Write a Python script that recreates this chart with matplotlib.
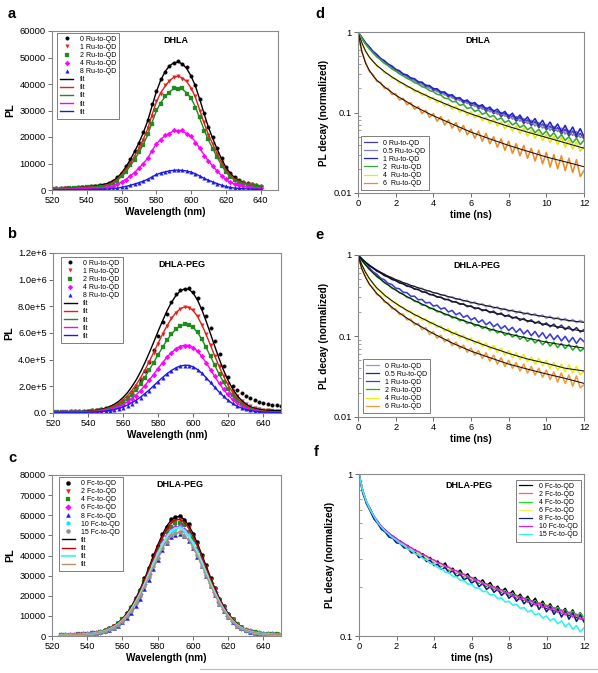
import numpy as np
import matplotlib
matplotlib.use('Agg')
import matplotlib.pyplot as plt
from matplotlib.ticker import FixedLocator, FixedFormatter, NullFormatter, LogLocator
from matplotlib.lines import Line2D

plt.rcParams['font.family'] = ['Liberation Sans', 'DejaVu Sans']

# ---------------- spectra data (PL in thousands of counts) ----------------
wl_a = np.arange(520, 640.01, 2.5)
a_labels = ['0 Ru-to-QD', '1 Ru-to-QD', '2 Ru-to-QD', '4 Ru-to-QD', '8 Ru-to-QD']
a_0 = [0.50, 0.58, 0.62, 0.66, 0.78, 0.84, 0.98, 1.08, 1.28, 1.42, 1.60, 1.80, 2.05, 2.55, 3.40, 4.80, 6.60, 8.90, 11.6, 14.8, 17.9, 21.9, 26.4, 32.4, 37.2, 41.9, 44.6, 46.9, 47.8, 48.6, 47.5, 46.6, 43.2, 39.8, 34.4, 28.9, 23.9, 19.9, 15.7, 12.1, 8.8, 6.5, 4.9, 3.9, 3.2, 2.7, 2.2, 1.8, 1.5]
a_1 = [0.45, 0.47, 0.55, 0.57, 0.68, 0.74, 0.86, 0.95, 1.13, 1.22, 1.40, 1.52, 1.76, 2.10, 2.98, 4.00, 5.85, 7.60, 10.3, 12.6, 16.0, 18.9, 23.3, 28.0, 33.5, 36.4, 39.5, 41.0, 42.8, 43.2, 42.0, 41.2, 38.2, 35.3, 29.8, 25.5, 20.6, 17.5, 13.5, 10.6, 7.4, 5.7, 4.1, 3.5, 2.6, 2.3, 1.8, 1.5, 1.2]
a_2 = [0.41, 0.43, 0.49, 0.51, 0.62, 0.67, 0.78, 0.85, 1.01, 1.09, 1.26, 1.36, 1.58, 1.88, 2.70, 3.58, 5.30, 6.80, 9.25, 11.3, 14.4, 16.9, 21.0, 25.0, 30.2, 32.6, 35.5, 36.6, 38.5, 38.1, 38.4, 36.2, 34.9, 31.0, 27.4, 22.3, 19.1, 15.3, 12.5, 9.2, 6.9, 4.9, 3.9, 2.9, 2.5, 2.0, 1.7, 1.4, 1.1]
a_4 = [0.24, 0.25, 0.29, 0.30, 0.36, 0.39, 0.45, 0.50, 0.60, 0.64, 0.74, 0.80, 0.93, 1.10, 1.56, 2.10, 3.08, 3.95, 5.40, 6.60, 8.40, 9.85, 12.2, 14.6, 17.5, 19.0, 20.7, 21.3, 22.5, 22.2, 22.6, 21.0, 20.3, 17.9, 15.9, 13.0, 11.1, 8.9, 7.3, 5.4, 4.0, 2.9, 2.3, 1.75, 1.45, 1.18, 0.98, 0.78, 0.66]
a_8 = [0.08, 0.10, 0.09, 0.11, 0.12, 0.14, 0.15, 0.18, 0.19, 0.23, 0.24, 0.28, 0.31, 0.38, 0.52, 0.70, 1.04, 1.32, 1.82, 2.20, 2.82, 3.30, 4.10, 4.90, 5.90, 6.35, 6.95, 7.15, 7.55, 7.45, 7.50, 7.05, 6.85, 6.00, 5.35, 4.35, 3.72, 3.00, 2.45, 1.80, 1.35, 0.96, 0.76, 0.58, 0.49, 0.39, 0.34, 0.26, 0.23]
a_fit0 = [0.40, 0.45, 0.50, 0.58, 0.66, 0.76, 0.88, 1.02, 1.18, 1.36, 1.56, 1.80, 2.10, 2.60, 3.40, 4.60, 6.40, 8.70, 11.4, 14.5, 17.8, 21.6, 26.0, 31.6, 37.0, 41.4, 44.6, 46.8, 48.0, 48.3, 47.6, 45.8, 43.0, 39.2, 34.2, 28.8, 23.6, 19.4, 15.4, 11.8, 8.6, 6.3, 4.7, 3.6, 2.8, 2.2, 1.8, 1.5, 1.2]
a_fit1 = [0.44, 0.49, 0.53, 0.58, 0.66, 0.75, 0.84, 0.97, 1.11, 1.24, 1.37, 1.55, 1.73, 2.12, 2.92, 4.07, 5.75, 7.70, 10.1, 12.8, 15.8, 19.1, 23.0, 28.3, 33.2, 36.7, 39.1, 41.2, 42.5, 42.9, 42.3, 40.9, 38.5, 35.0, 30.1, 25.2, 20.9, 17.3, 13.7, 10.4, 7.5, 5.6, 4.2, 3.4, 2.7, 2.3, 1.9, 1.5, 1.2]
a_fit2 = [0.40, 0.44, 0.48, 0.52, 0.60, 0.68, 0.76, 0.87, 0.99, 1.11, 1.23, 1.39, 1.55, 1.91, 2.62, 3.66, 5.17, 6.92, 9.06, 11.5, 14.2, 17.2, 20.7, 25.4, 29.8, 33.0, 35.1, 37.0, 38.2, 38.6, 38.0, 36.7, 34.6, 31.4, 27.0, 22.7, 18.8, 15.6, 12.3, 9.4, 6.8, 5.0, 3.8, 3.0, 2.5, 2.1, 1.7, 1.4, 1.1]
a_fit4 = [0.23, 0.25, 0.28, 0.30, 0.35, 0.39, 0.44, 0.51, 0.58, 0.65, 0.72, 0.81, 0.90, 1.11, 1.52, 2.13, 3.00, 4.02, 5.27, 6.70, 8.22, 9.98, 12.0, 14.8, 17.3, 19.2, 20.4, 21.5, 22.2, 22.4, 22.1, 21.3, 20.1, 18.2, 15.7, 13.2, 10.9, 9.06, 7.16, 5.45, 3.93, 2.91, 2.22, 1.76, 1.43, 1.20, 0.97, 0.79, 0.65]
a_fit8 = [0.08, 0.09, 0.09, 0.10, 0.12, 0.13, 0.15, 0.17, 0.19, 0.22, 0.24, 0.27, 0.30, 0.37, 0.51, 0.71, 1.01, 1.35, 1.77, 2.25, 2.76, 3.35, 4.03, 4.96, 5.81, 6.43, 6.85, 7.22, 7.44, 7.52, 7.41, 7.16, 6.74, 6.12, 5.27, 4.42, 3.66, 3.04, 2.40, 1.83, 1.32, 0.98, 0.74, 0.59, 0.48, 0.40, 0.33, 0.26, 0.22]

wl_b = np.arange(520, 650.01, 2.5)
b_0 = [8, 10, 9, 11, 12, 12, 14, 15, 17, 20, 24, 28, 35, 44, 55, 68, 85, 108, 140, 190, 250, 318, 385, 470, 580, 680, 745, 830, 895, 920, 932, 935, 905, 865, 790, 725, 640, 540, 440, 350, 270, 200, 170, 150, 130, 115, 100, 85, 72, 66, 62, 58, 54]
b_1 = [8, 7, 8, 8, 9, 9, 10, 11, 13, 15, 19, 24, 30, 40, 52, 70, 92, 122, 160, 205, 258, 318, 385, 450, 520, 590, 655, 712, 752, 780, 792, 790, 770, 725, 662, 590, 510, 428, 350, 278, 215, 165, 125, 92, 68, 50, 38, 30, 24, 20, 17, 15, 13]
b_2 = [7, 6, 7, 7, 8, 8, 9, 9, 11, 13, 15, 19, 24, 32, 43, 58, 78, 103, 135, 172, 215, 265, 320, 378, 436, 492, 545, 592, 630, 655, 664, 662, 645, 608, 556, 492, 425, 358, 292, 232, 180, 137, 102, 75, 55, 40, 30, 23, 18, 15, 13, 11, 10]
b_4 = [6, 5, 6, 6, 6, 7, 7, 8, 9, 10, 12, 15, 19, 25, 34, 45, 60, 79, 103, 131, 165, 202, 244, 288, 333, 376, 417, 452, 480, 498, 506, 504, 490, 462, 424, 377, 326, 274, 224, 179, 139, 106, 80, 59, 44, 33, 25, 19, 15, 12, 10, 9, 8]
b_8 = [5, 4, 5, 5, 5, 5, 5, 6, 6, 7, 8, 10, 13, 17, 23, 31, 41, 54, 70, 90, 113, 139, 168, 199, 231, 262, 291, 316, 336, 350, 356, 355, 345, 325, 298, 265, 229, 192, 157, 125, 97, 74, 55, 41, 30, 22, 16, 12, 10, 8, 7, 6, 6]
b_fit0 = [8, 8, 8, 8, 9, 9, 10, 11, 13, 16, 21, 27, 36, 49, 66, 88, 117, 153, 198, 250, 311, 380, 455, 534, 615, 692, 766, 829, 879, 915, 931, 928, 898, 844, 770, 682, 586, 490, 397, 313, 240, 180, 131, 94, 66, 46, 34, 27, 22, 20, 19, 18, 18]
b_fit1 = [7, 7, 7, 7, 7, 8, 9, 10, 11, 14, 18, 23, 31, 42, 56, 76, 100, 131, 169, 214, 266, 325, 389, 457, 525, 592, 654, 709, 751, 781, 795, 793, 767, 721, 658, 582, 501, 419, 340, 268, 205, 154, 112, 80, 56, 39, 28, 20, 15, 12, 10, 8, 8]
b_fit2 = [6, 6, 6, 6, 6, 7, 7, 8, 10, 12, 15, 20, 26, 35, 47, 63, 84, 110, 141, 179, 222, 271, 325, 382, 439, 494, 547, 592, 628, 653, 665, 663, 641, 603, 550, 486, 419, 350, 284, 224, 172, 129, 94, 67, 47, 33, 23, 17, 12, 10, 8, 7, 7]
b_fit4 = [5, 5, 5, 5, 5, 6, 6, 7, 8, 9, 12, 15, 20, 27, 37, 49, 65, 84, 109, 137, 171, 208, 249, 292, 336, 379, 419, 453, 481, 500, 509, 507, 491, 462, 421, 373, 321, 268, 218, 172, 132, 99, 72, 52, 37, 26, 18, 13, 10, 8, 7, 6, 6]
b_fit8 = [4, 4, 4, 4, 4, 4, 5, 5, 6, 7, 9, 11, 15, 20, 26, 35, 46, 60, 77, 97, 120, 147, 175, 206, 237, 267, 295, 319, 338, 352, 358, 357, 346, 325, 297, 262, 226, 189, 153, 121, 93, 70, 51, 37, 26, 19, 13, 10, 7, 6, 5, 5, 4]
b_yticks = [0, 2e5, 4e5, 6e5, 8e5, 1e6, 1.2e6]
b_yticklabels = ['0.0', '2.0e+5', '4.0e+5', '6.0e+5', '8.0e+5', '1.0e+6', '1.2e+6']

wl_c = np.arange(525, 650.01, 2.5)
c_labels = ['0 Fc-to-QD', '2 Fc-to-QD', '4 Fc-to-QD', '6 Fc-to-QD', '8 Fc-to-QD', '10 Fc-to-QD', '15 Fc-to-QD']
c_0 = [0.55, 0.62, 0.64, 0.72, 0.80, 0.92, 1.08, 1.38, 1.68, 2.20, 2.75, 3.80, 4.90, 6.65, 8.50, 11.4, 14.5, 18.9, 22.9, 28.7, 33.6, 40.1, 44.8, 50.5, 54.1, 57.9, 59.0, 59.8, 57.7, 55.5, 50.8, 46.5, 40.2, 35.1, 28.7, 23.9, 18.6, 14.9, 10.9, 8.5, 6.0, 4.6, 3.2, 2.6, 1.85, 1.55, 1.15, 1.05, 0.85, 0.82, 0.72]
c_2 = [0.52, 0.60, 0.62, 0.70, 0.76, 0.90, 1.05, 1.35, 1.62, 2.14, 2.70, 3.68, 4.75, 6.45, 8.30, 11.1, 14.0, 18.4, 22.2, 27.9, 32.8, 39.0, 43.6, 49.3, 52.6, 56.5, 57.3, 58.3, 56.2, 54.2, 49.4, 45.3, 39.1, 34.3, 27.9, 23.4, 18.0, 14.5, 10.6, 8.3, 5.8, 4.5, 3.1, 2.5, 1.80, 1.50, 1.12, 1.02, 0.84, 0.80, 0.70]
c_4 = [0.53, 0.56, 0.63, 0.65, 0.77, 0.84, 1.05, 1.27, 1.62, 2.01, 2.68, 3.45, 4.70, 6.10, 8.20, 10.5, 13.9, 17.4, 21.9, 26.6, 32.2, 37.2, 42.8, 47.1, 51.6, 54.1, 56.2, 56.0, 55.0, 51.9, 48.5, 43.4, 38.4, 32.6, 27.5, 22.2, 17.9, 13.7, 10.6, 7.8, 5.8, 4.2, 3.1, 2.4, 1.82, 1.40, 1.15, 0.95, 0.86, 0.75, 0.72]
c_6 = [0.50, 0.57, 0.59, 0.66, 0.72, 0.83, 0.99, 1.25, 1.55, 2.00, 2.55, 3.42, 4.50, 6.00, 7.85, 10.3, 13.4, 17.1, 21.0, 26.0, 31.0, 36.4, 41.0, 46.0, 49.6, 52.8, 54.0, 54.6, 52.9, 50.6, 46.6, 42.4, 36.9, 32.0, 26.4, 21.8, 17.1, 13.5, 10.1, 7.7, 5.5, 4.2, 3.0, 2.3, 1.72, 1.40, 1.08, 0.95, 0.80, 0.74, 0.68]
c_8 = [0.45, 0.52, 0.55, 0.60, 0.66, 0.75, 0.90, 1.12, 1.40, 1.78, 2.25, 2.95, 3.90, 5.20, 6.80, 8.90, 11.6, 15.0, 18.6, 23.2, 28.0, 33.2, 38.0, 42.6, 46.2, 49.0, 50.2, 50.8, 49.6, 47.3, 43.8, 39.5, 34.8, 29.8, 24.9, 20.3, 16.0, 12.5, 9.5, 7.1, 5.2, 3.9, 2.8, 2.1, 1.60, 1.30, 1.02, 0.88, 0.76, 0.70, 0.64]
c_10 = [0.50, 0.55, 0.58, 0.64, 0.71, 0.82, 0.98, 1.24, 1.52, 1.98, 2.50, 3.40, 4.42, 5.98, 7.70, 10.3, 13.1, 17.0, 20.7, 25.9, 30.5, 36.2, 40.5, 45.6, 48.9, 52.3, 53.3, 54.1, 52.2, 50.2, 46.0, 42.0, 36.4, 31.7, 26.0, 21.6, 16.9, 13.4, 9.9, 7.6, 5.4, 4.2, 2.95, 2.35, 1.70, 1.40, 1.06, 0.94, 0.78, 0.74, 0.66]
c_15 = [0.47, 0.53, 0.55, 0.62, 0.68, 0.79, 0.94, 1.19, 1.45, 1.89, 2.38, 3.25, 4.22, 5.70, 7.35, 9.85, 12.5, 16.3, 19.8, 24.8, 29.1, 34.6, 38.8, 43.6, 46.8, 50.0, 51.0, 51.7, 49.9, 48.0, 44.0, 40.2, 34.8, 30.3, 24.8, 20.7, 16.1, 12.8, 9.4, 7.3, 5.2, 4.0, 2.8, 2.25, 1.62, 1.34, 1.00, 0.91, 0.74, 0.71, 0.63]
c_fit0 = [0.55, 0.60, 0.65, 0.70, 0.80, 0.90, 1.10, 1.35, 1.70, 2.15, 2.80, 3.70, 4.95, 6.50, 8.60, 11.2, 14.6, 18.6, 23.1, 28.3, 33.9, 39.6, 45.1, 50.1, 54.4, 57.5, 59.2, 59.4, 58.0, 55.1, 51.1, 46.1, 40.5, 34.7, 29.0, 23.6, 18.8, 14.6, 11.1, 8.3, 6.1, 4.5, 3.3, 2.5, 1.9, 1.5, 1.2, 1.0, 0.9, 0.8, 0.75]
c_fit2 = [0.54, 0.59, 0.63, 0.68, 0.78, 0.88, 1.07, 1.32, 1.66, 2.10, 2.73, 3.61, 4.83, 6.34, 8.39, 10.9, 14.2, 18.1, 22.5, 27.6, 33.1, 38.6, 44.0, 48.8, 53.0, 56.1, 57.7, 57.9, 56.6, 53.7, 49.8, 44.9, 39.5, 33.8, 28.3, 23.0, 18.3, 14.2, 10.8, 8.1, 5.9, 4.4, 3.2, 2.4, 1.85, 1.46, 1.17, 0.98, 0.88, 0.78, 0.73]
c_fit10 = [0.50, 0.54, 0.59, 0.63, 0.72, 0.81, 1.00, 1.22, 1.54, 1.95, 2.53, 3.35, 4.48, 5.88, 7.78, 10.1, 13.2, 16.8, 20.9, 25.6, 30.7, 35.8, 40.8, 45.3, 49.2, 52.0, 53.6, 53.8, 52.5, 49.9, 46.2, 41.7, 36.7, 31.4, 26.2, 21.4, 17.0, 13.2, 10.0, 7.5, 5.5, 4.1, 3.0, 2.3, 1.72, 1.36, 1.09, 0.91, 0.81, 0.72, 0.68]
c_fit15 = [0.48, 0.52, 0.56, 0.61, 0.69, 0.78, 0.95, 1.17, 1.47, 1.86, 2.42, 3.20, 4.28, 5.62, 7.44, 9.69, 12.6, 16.1, 20.0, 24.5, 29.3, 34.3, 39.0, 43.3, 47.1, 49.7, 51.2, 51.4, 50.2, 47.7, 44.2, 39.9, 35.0, 30.0, 25.1, 20.4, 16.3, 12.6, 9.6, 7.2, 5.3, 3.9, 2.9, 2.2, 1.64, 1.30, 1.04, 0.87, 0.78, 0.69, 0.65]

# ---------------- decay data (normalized) ----------------
t_dec = np.arange(0, 12.001, 0.2)
t_fit = [0, 0.2, 0.4, 0.6, 0.8, 1, 1.5, 2, 2.5, 3, 4, 5, 6, 7, 8, 9, 10, 11, 12]
ru_labels_d = ['0 Ru-to-QD', '0.5 Ru-to-QD', '1 Ru-to-QD', '2  Ru-to-QD', '4  Ru-to-QD', '6  Ru-to-QD']
ru_labels_e = ['0 Ru-to-QD', '0.5 Ru-to-QD', '1 Ru-to-QD', '2 Ru-to-QD', '4 Ru-to-QD', '6 Ru-to-QD']

d_0 = [1.0, 0.845, 0.715, 0.635, 0.555, 0.51, 0.455, 0.428, 0.386, 0.368, 0.331, 0.322, 0.29, 0.286, 0.258, 0.257, 0.232, 0.231, 0.208, 0.211, 0.188, 0.191, 0.171, 0.175, 0.156, 0.161, 0.143, 0.149, 0.131, 0.138, 0.121, 0.128, 0.112, 0.119, 0.103, 0.111, 0.097, 0.103, 0.089, 0.098, 0.084, 0.091, 0.078, 0.087, 0.073, 0.081, 0.069, 0.077, 0.065, 0.072, 0.061, 0.068, 0.058, 0.065, 0.054, 0.062, 0.051, 0.059, 0.049, 0.055, 0.047]
d_05 = [1.0, 0.84, 0.725, 0.625, 0.565, 0.5, 0.465, 0.418, 0.395, 0.357, 0.342, 0.31, 0.303, 0.274, 0.27, 0.247, 0.243, 0.221, 0.22, 0.199, 0.2, 0.181, 0.182, 0.165, 0.168, 0.151, 0.153, 0.14, 0.142, 0.129, 0.133, 0.119, 0.123, 0.11, 0.115, 0.102, 0.107, 0.095, 0.1, 0.09, 0.094, 0.083, 0.089, 0.078, 0.084, 0.073, 0.08, 0.068, 0.075, 0.064, 0.071, 0.06, 0.067, 0.058, 0.064, 0.054, 0.06, 0.052, 0.058, 0.049, 0.052]
d_1 = [1.0, 0.86, 0.735, 0.655, 0.575, 0.525, 0.47, 0.44, 0.4, 0.378, 0.344, 0.33, 0.3, 0.293, 0.268, 0.263, 0.24, 0.238, 0.217, 0.216, 0.197, 0.197, 0.179, 0.18, 0.163, 0.166, 0.15, 0.153, 0.138, 0.143, 0.128, 0.133, 0.119, 0.125, 0.11, 0.117, 0.103, 0.11, 0.096, 0.103, 0.089, 0.098, 0.083, 0.093, 0.078, 0.088, 0.074, 0.084, 0.069, 0.08, 0.065, 0.076, 0.062, 0.072, 0.058, 0.069, 0.055, 0.066, 0.052, 0.063, 0.05]
d_2 = [1.0, 0.835, 0.71, 0.62, 0.55, 0.49, 0.452, 0.408, 0.382, 0.348, 0.327, 0.302, 0.285, 0.266, 0.253, 0.235, 0.226, 0.209, 0.202, 0.187, 0.182, 0.168, 0.165, 0.15, 0.149, 0.136, 0.137, 0.123, 0.126, 0.112, 0.116, 0.103, 0.108, 0.095, 0.1, 0.088, 0.092, 0.081, 0.086, 0.075, 0.08, 0.07, 0.075, 0.065, 0.07, 0.061, 0.066, 0.056, 0.062, 0.053, 0.059, 0.05, 0.056, 0.047, 0.053, 0.045, 0.05, 0.042, 0.048, 0.04, 0.045]
d_4 = [1.0, 0.73, 0.585, 0.48, 0.438, 0.375, 0.356, 0.312, 0.305, 0.268, 0.264, 0.232, 0.231, 0.204, 0.207, 0.181, 0.186, 0.163, 0.169, 0.146, 0.154, 0.133, 0.141, 0.121, 0.129, 0.11, 0.12, 0.101, 0.11, 0.092, 0.102, 0.086, 0.095, 0.079, 0.088, 0.073, 0.083, 0.068, 0.077, 0.063, 0.072, 0.059, 0.068, 0.055, 0.064, 0.051, 0.06, 0.048, 0.057, 0.045, 0.054, 0.042, 0.051, 0.04, 0.049, 0.037, 0.046, 0.035, 0.043, 0.033, 0.038]
d_6 = [1.0, 0.57, 0.42, 0.325, 0.295, 0.243, 0.236, 0.2, 0.199, 0.168, 0.171, 0.143, 0.15, 0.125, 0.133, 0.11, 0.118, 0.097, 0.107, 0.087, 0.097, 0.078, 0.089, 0.07, 0.081, 0.064, 0.075, 0.058, 0.069, 0.053, 0.062, 0.048, 0.059, 0.044, 0.055, 0.041, 0.05, 0.037, 0.047, 0.034, 0.044, 0.031, 0.041, 0.029, 0.039, 0.027, 0.036, 0.025, 0.034, 0.023, 0.032, 0.021, 0.03, 0.02, 0.029, 0.019, 0.027, 0.018, 0.026, 0.016, 0.019]
d_fit4 = [1.0, 0.74, 0.58, 0.49, 0.43, 0.385, 0.309, 0.258, 0.221, 0.190, 0.148, 0.118, 0.096, 0.080, 0.067, 0.057, 0.049, 0.042, 0.036]
d_fit6 = [1.0, 0.58, 0.41, 0.335, 0.285, 0.252, 0.200, 0.164, 0.140, 0.119, 0.091, 0.072, 0.057, 0.047, 0.039, 0.033, 0.028, 0.0244, 0.0212]

e_0 = [1.0, 0.905, 0.81, 0.755, 0.69, 0.655, 0.605, 0.582, 0.542, 0.528, 0.49, 0.483, 0.45, 0.445, 0.416, 0.413, 0.386, 0.388, 0.36, 0.362, 0.337, 0.341, 0.317, 0.322, 0.298, 0.305, 0.282, 0.29, 0.267, 0.276, 0.253, 0.263, 0.241, 0.25, 0.229, 0.24, 0.219, 0.229, 0.209, 0.219, 0.2, 0.211, 0.192, 0.203, 0.184, 0.195, 0.18, 0.188, 0.173, 0.182, 0.165, 0.176, 0.16, 0.17, 0.155, 0.165, 0.151, 0.16, 0.146, 0.156, 0.148]
e_05 = [1.0, 0.89, 0.815, 0.735, 0.692, 0.632, 0.604, 0.556, 0.538, 0.498, 0.486, 0.451, 0.443, 0.411, 0.408, 0.378, 0.376, 0.349, 0.349, 0.324, 0.323, 0.301, 0.302, 0.281, 0.283, 0.263, 0.265, 0.246, 0.25, 0.23, 0.236, 0.217, 0.223, 0.205, 0.212, 0.194, 0.203, 0.184, 0.192, 0.174, 0.182, 0.165, 0.173, 0.156, 0.165, 0.15, 0.158, 0.143, 0.152, 0.136, 0.145, 0.13, 0.14, 0.125, 0.136, 0.12, 0.131, 0.116, 0.127, 0.112, 0.12]
e_1 = [1.0, 0.875, 0.765, 0.695, 0.62, 0.578, 0.518, 0.494, 0.446, 0.432, 0.39, 0.383, 0.346, 0.343, 0.31, 0.31, 0.28, 0.283, 0.256, 0.26, 0.234, 0.24, 0.215, 0.223, 0.198, 0.207, 0.183, 0.193, 0.17, 0.18, 0.158, 0.168, 0.147, 0.158, 0.138, 0.149, 0.13, 0.141, 0.123, 0.134, 0.117, 0.128, 0.111, 0.123, 0.106, 0.118, 0.101, 0.114, 0.097, 0.11, 0.093, 0.106, 0.09, 0.102, 0.087, 0.099, 0.084, 0.096, 0.081, 0.094, 0.085]
e_2 = [1.0, 0.855, 0.76, 0.665, 0.605, 0.54, 0.503, 0.453, 0.43, 0.388, 0.374, 0.34, 0.33, 0.3, 0.294, 0.268, 0.264, 0.24, 0.239, 0.218, 0.219, 0.199, 0.201, 0.182, 0.185, 0.167, 0.171, 0.154, 0.158, 0.143, 0.148, 0.133, 0.138, 0.124, 0.13, 0.116, 0.122, 0.109, 0.115, 0.102, 0.109, 0.097, 0.104, 0.091, 0.099, 0.086, 0.094, 0.082, 0.09, 0.078, 0.087, 0.075, 0.084, 0.072, 0.081, 0.07, 0.079, 0.067, 0.076, 0.065, 0.07]
e_4 = [1.0, 0.75, 0.62, 0.505, 0.455, 0.385, 0.36, 0.312, 0.302, 0.264, 0.26, 0.228, 0.228, 0.199, 0.203, 0.176, 0.182, 0.156, 0.164, 0.14, 0.148, 0.127, 0.134, 0.114, 0.123, 0.103, 0.113, 0.095, 0.103, 0.087, 0.095, 0.08, 0.088, 0.074, 0.082, 0.068, 0.076, 0.063, 0.071, 0.058, 0.066, 0.054, 0.062, 0.051, 0.059, 0.048, 0.055, 0.045, 0.053, 0.043, 0.05, 0.04, 0.047, 0.038, 0.045, 0.036, 0.044, 0.035, 0.042, 0.033, 0.037]
e_6 = [1.0, 0.67, 0.54, 0.43, 0.39, 0.325, 0.31, 0.262, 0.256, 0.217, 0.216, 0.184, 0.186, 0.158, 0.162, 0.137, 0.143, 0.12, 0.127, 0.105, 0.113, 0.094, 0.102, 0.085, 0.092, 0.076, 0.084, 0.07, 0.077, 0.063, 0.071, 0.058, 0.066, 0.053, 0.062, 0.049, 0.058, 0.045, 0.054, 0.042, 0.05, 0.04, 0.047, 0.037, 0.045, 0.035, 0.042, 0.033, 0.04, 0.031, 0.038, 0.029, 0.036, 0.027, 0.035, 0.026, 0.033, 0.024, 0.032, 0.023, 0.025]
e_fit0 = [1.0, 0.9, 0.815, 0.75, 0.695, 0.65, 0.562, 0.498, 0.448, 0.408, 0.345, 0.298, 0.261, 0.232, 0.208, 0.188, 0.172, 0.158, 0.147]
e_fit05 = [1.0, 0.895, 0.81, 0.742, 0.686, 0.64, 0.547, 0.48, 0.427, 0.385, 0.318, 0.269, 0.23, 0.2, 0.175, 0.155, 0.138, 0.125, 0.114]
e_fit2 = [1.0, 0.86, 0.755, 0.67, 0.6, 0.545, 0.442, 0.369, 0.315, 0.274, 0.214, 0.173, 0.144, 0.122, 0.106, 0.094, 0.084, 0.077, 0.071]
e_fit4 = [1.0, 0.76, 0.61, 0.515, 0.445, 0.392, 0.307, 0.253, 0.214, 0.184, 0.141, 0.11, 0.089, 0.073, 0.061, 0.052, 0.046, 0.040, 0.037]
e_fit6 = [1.0, 0.68, 0.53, 0.44, 0.38, 0.335, 0.259, 0.208, 0.172, 0.145, 0.107, 0.082, 0.065, 0.054, 0.045, 0.039, 0.034, 0.030, 0.026]

fc_labels_f = ['0 Fc-to-QD', '2 Fc-to-QD', '4 Fc-to-QD', '6 Fc-to-QD', '8 Fc-to-QD', '10 Fc-to-QD', '15 Fc-to-QD']
f_0 = [1.0, 0.79, 0.665, 0.61, 0.54, 0.51, 0.465, 0.452, 0.42, 0.415, 0.388, 0.386, 0.362, 0.362, 0.34, 0.34, 0.32, 0.322, 0.302, 0.305, 0.284, 0.29, 0.27, 0.282, 0.256, 0.262, 0.244, 0.255, 0.232, 0.242, 0.222, 0.23, 0.212, 0.222, 0.203, 0.214, 0.195, 0.203, 0.187, 0.197, 0.179, 0.19, 0.172, 0.181, 0.166, 0.176, 0.16, 0.171, 0.154, 0.164, 0.148, 0.158, 0.143, 0.153, 0.139, 0.148, 0.134, 0.145, 0.13, 0.139, 0.128]
f_2 = [1.0, 0.775, 0.675, 0.595, 0.55, 0.5, 0.474, 0.441, 0.428, 0.404, 0.396, 0.375, 0.369, 0.35, 0.346, 0.329, 0.326, 0.31, 0.308, 0.292, 0.291, 0.277, 0.277, 0.263, 0.263, 0.25, 0.251, 0.238, 0.239, 0.228, 0.229, 0.218, 0.219, 0.208, 0.21, 0.199, 0.201, 0.19, 0.193, 0.183, 0.185, 0.175, 0.178, 0.168, 0.171, 0.162, 0.165, 0.156, 0.16, 0.151, 0.155, 0.146, 0.15, 0.141, 0.145, 0.136, 0.14, 0.132, 0.136, 0.128, 0.13]
f_4 = [1.0, 0.785, 0.668, 0.602, 0.543, 0.505, 0.468, 0.447, 0.423, 0.41, 0.39, 0.381, 0.363, 0.356, 0.34, 0.335, 0.32, 0.316, 0.302, 0.298, 0.285, 0.283, 0.271, 0.27, 0.257, 0.257, 0.245, 0.245, 0.233, 0.234, 0.223, 0.224, 0.213, 0.214, 0.204, 0.206, 0.196, 0.197, 0.188, 0.19, 0.18, 0.183, 0.173, 0.176, 0.167, 0.17, 0.161, 0.165, 0.155, 0.159, 0.15, 0.154, 0.145, 0.15, 0.14, 0.145, 0.136, 0.142, 0.132, 0.138, 0.13]
f_6 = [1.0, 0.78, 0.672, 0.598, 0.547, 0.501, 0.471, 0.443, 0.426, 0.406, 0.394, 0.377, 0.367, 0.352, 0.344, 0.331, 0.324, 0.312, 0.306, 0.294, 0.289, 0.279, 0.275, 0.265, 0.261, 0.252, 0.249, 0.24, 0.237, 0.229, 0.227, 0.219, 0.217, 0.209, 0.208, 0.2, 0.199, 0.192, 0.191, 0.184, 0.183, 0.177, 0.176, 0.17, 0.169, 0.163, 0.163, 0.157, 0.157, 0.152, 0.152, 0.147, 0.147, 0.142, 0.142, 0.138, 0.138, 0.134, 0.134, 0.13, 0.129]
f_8 = [1.0, 0.765, 0.655, 0.59, 0.528, 0.495, 0.455, 0.438, 0.408, 0.401, 0.376, 0.372, 0.35, 0.349, 0.326, 0.328, 0.305, 0.31, 0.288, 0.293, 0.272, 0.277, 0.258, 0.265, 0.245, 0.253, 0.233, 0.241, 0.222, 0.23, 0.212, 0.22, 0.202, 0.211, 0.194, 0.202, 0.186, 0.195, 0.178, 0.187, 0.171, 0.18, 0.164, 0.174, 0.158, 0.168, 0.152, 0.163, 0.146, 0.157, 0.141, 0.152, 0.136, 0.147, 0.131, 0.143, 0.127, 0.139, 0.123, 0.135, 0.122]
f_10 = [1.0, 0.785, 0.675, 0.605, 0.55, 0.508, 0.476, 0.45, 0.432, 0.413, 0.4, 0.384, 0.373, 0.358, 0.35, 0.337, 0.331, 0.317, 0.312, 0.299, 0.295, 0.283, 0.28, 0.268, 0.266, 0.254, 0.253, 0.242, 0.241, 0.23, 0.23, 0.22, 0.22, 0.21, 0.21, 0.2, 0.201, 0.192, 0.193, 0.184, 0.185, 0.176, 0.178, 0.169, 0.171, 0.162, 0.165, 0.156, 0.159, 0.15, 0.154, 0.145, 0.149, 0.14, 0.144, 0.135, 0.14, 0.131, 0.136, 0.127, 0.128]
f_15 = [1.0, 0.785, 0.672, 0.6, 0.548, 0.5, 0.47, 0.443, 0.424, 0.403, 0.39, 0.372, 0.362, 0.345, 0.337, 0.322, 0.315, 0.301, 0.295, 0.281, 0.277, 0.264, 0.261, 0.248, 0.246, 0.234, 0.232, 0.221, 0.22, 0.209, 0.209, 0.198, 0.198, 0.188, 0.189, 0.179, 0.18, 0.17, 0.172, 0.162, 0.164, 0.155, 0.157, 0.148, 0.15, 0.141, 0.144, 0.135, 0.138, 0.129, 0.133, 0.124, 0.128, 0.119, 0.124, 0.114, 0.12, 0.11, 0.116, 0.106, 0.112]

# ---------------- figure ----------------
W, H = 598, 673
fig = plt.figure(figsize=(W / 100, H / 100), dpi=100)
SPINE = '#8a8a8a'
TICK_FS = 6.7
LAB_FS = 7.2


def ax_px(l, t, r, b):
    return fig.add_axes([l / W, 1 - b / H, (r - l) / W, (b - t) / H])


def style(ax):
    for s in ax.spines.values():
        s.set_color(SPINE)
        s.set_linewidth(0.8)
    ax.tick_params(which='major', direction='out', length=3, width=0.6, color='#555555',
                   labelsize=TICK_FS, pad=1.5)
    ax.tick_params(which='minor', direction='in', length=2, width=0.5, color='#777777')


def legend(ax, handles, labels, **kw):
    leg = ax.legend(handles, labels, fontsize=5, frameon=True, fancybox=False, edgecolor='#444444',
                    borderpad=0.45, labelspacing=0.16, handlelength=1.9, handletextpad=0.9,
                    borderaxespad=0, numpoints=1, **kw)
    leg.get_frame().set_linewidth(0.6)
    return leg


def pick(x, y):
    n = min(len(x), len(y))
    return np.asarray(x[:n], float), np.asarray(y[:n], float)


def spectrum_panel(ax, wl, data, fits, markers, colors, fit_colors, unit, ms, fit_lw):
    handles = []
    for y, m, c in zip(data, markers, colors):
        xx, yy = pick(wl, y)
        h, = ax.plot(xx, yy * unit, linestyle='none', marker=m, ms=ms, color=c, mec=c, mew=0.2)
        handles.append(h)
    for y, c, lw in zip(fits, fit_colors, fit_lw):
        xx, yy = pick(wl, y)
        h, = ax.plot(xx, yy * unit, '-', color=c, lw=lw)
        handles.append(h)
    return handles


# ---- panel a ----
ax = ax_px(52, 31, 278, 190)
style(ax)
cols = ['#000000', '#e3201b', '#1e8c1e', '#ff00ff', '#1a1ae6']
hs = spectrum_panel(ax, wl_a, [a_0, a_1, a_2, a_4, a_8], [a_fit0, a_fit1, a_fit2, a_fit4, a_fit8],
                    ['o', 'v', 's', 'D', '^'], cols, cols, 1000, 2.6, [1.0] * 5)
ax.set_xlim(520, 650)
ax.set_ylim(0, 60000)
ax.set_xticks([520, 540, 560, 580, 600, 620, 640])
ax.set_yticks([0, 10000, 20000, 30000, 40000, 50000, 60000])
ax.set_xlabel('Wavelength (nm)', fontsize=LAB_FS, fontweight='bold', labelpad=1.5)
ax.set_ylabel('PL', fontsize=LAB_FS + 0.5, fontweight='bold', labelpad=3)
ax.text(0.55, 0.94, 'DHLA', transform=ax.transAxes, ha='center', va='center', fontsize=6.5, fontweight='bold')
legend(ax, hs, a_labels + ['fit'] * 5, loc='upper left', bbox_to_anchor=(0.022, 0.99))

# ---- panel b ----
ax = ax_px(53, 253, 281, 413)
style(ax)
hs = spectrum_panel(ax, wl_b, [b_0, b_1, b_2, b_4, b_8], [b_fit0, b_fit1, b_fit2, b_fit4, b_fit8],
                    ['o', 'v', 's', 'D', '^'], cols, cols, 1000, 2.6, [1.0] * 5)
ax.set_xlim(520, 650)
ax.set_ylim(0, 1.2e6)
ax.set_xticks([520, 540, 560, 580, 600, 620, 640])
ax.yaxis.set_major_locator(FixedLocator(b_yticks))
ax.yaxis.set_major_formatter(FixedFormatter(b_yticklabels))
ax.set_xlabel('Wavelength (nm)', fontsize=LAB_FS, fontweight='bold', labelpad=1.5)
ax.set_ylabel('PL', fontsize=LAB_FS + 0.5, fontweight='bold', labelpad=3)
ax.text(0.566, 0.93, 'DHLA-PEG', transform=ax.transAxes, ha='center', va='center', fontsize=6.5, fontweight='bold')
legend(ax, hs, a_labels + ['fit'] * 5, loc='upper left', bbox_to_anchor=(0.034, 0.977))

# ---- panel c ----
ax = ax_px(52, 475, 281, 636)
style(ax)
c_cols = ['#000000', '#e3201b', '#1e8c1e', '#ff00ff', '#1a1ae6', '#00e8f0', '#8f8f8f']
c_fit_cols = ['#000000', '#c00000', '#66eeee', '#b89070']
hs = spectrum_panel(ax, wl_c, [c_0, c_2, c_4, c_6, c_8, c_10, c_15], [c_fit0, c_fit2, c_fit10, c_fit15],
                    ['o', 'v', 's', 'D', '^', 'h', 'o'], c_cols, c_fit_cols, 1000, 3.0,
                    [1.0, 1.0, 1.6, 1.0])
ax.set_xlim(520, 650)
ax.set_ylim(0, 80000)
ax.set_xticks([520, 540, 560, 580, 600, 620, 640])
ax.set_yticks([0, 10000, 20000, 30000, 40000, 50000, 60000, 70000, 80000])
ax.set_xlabel('Wavelength (nm)', fontsize=LAB_FS, fontweight='bold', labelpad=1.5)
ax.set_ylabel('PL', fontsize=LAB_FS + 0.5, fontweight='bold', labelpad=3)
ax.text(0.557, 0.938, 'DHLA-PEG', transform=ax.transAxes, ha='center', va='center', fontsize=6.5, fontweight='bold')
legend(ax, hs, c_labels + ['fit'] * 4, loc='upper left', bbox_to_anchor=(0.029, 0.988))


# ---- decay panels ----
def decay_panel(ax, series, colors, labels, fits, ylim, yticks, yticklabels, loc, anchor, title, tx, ty):
    style(ax)
    hs = []
    for y, c in zip(series, colors):
        xx, yy = pick(t_dec, y)
        ax.plot(xx, yy, '-', color=c, lw=1.15)
        hs.append(Line2D([], [], color=c, lw=0.9))
    for y in fits:
        xx, yy = pick(t_fit, y)
        ax.plot(xx, yy, '-', color='#111111', lw=0.75)
    ax.set_yscale('log')
    ax.set_xlim(0, 12)
    ax.set_ylim(*ylim)
    ax.set_xticks([0, 2, 4, 6, 8, 10, 12])
    ax.yaxis.set_major_locator(FixedLocator(yticks))
    ax.yaxis.set_major_formatter(FixedFormatter(yticklabels))
    ax.yaxis.set_minor_locator(LogLocator(base=10, subs=np.arange(2, 10) * 1.0))
    ax.yaxis.set_minor_formatter(NullFormatter())
    ax.set_xlabel('time (ns)', fontsize=LAB_FS, fontweight='bold', labelpad=1.5)
    ax.set_ylabel('PL decay (normalized)', fontsize=LAB_FS, fontweight='bold', labelpad=3)
    ax.text(tx, ty, title, transform=ax.transAxes, ha='center', va='center', fontsize=6.5, fontweight='bold')
    legend(ax, hs, labels, loc=loc, bbox_to_anchor=anchor)


ax = ax_px(358, 32, 584, 193)
decay_panel(ax, [d_0, d_05, d_1, d_2, d_4, d_6],
            ['#4b3b8f', '#7d80c8', '#2222c8', '#3aa53a', '#e8e80a', '#f08a24'],
            ru_labels_d, [d_fit4, d_fit6], (0.01, 1), [0.01, 0.1, 1], ['0.01', '0.1', '1'],
            'lower left', (0.012, 0.017), 'DHLA', 0.53, 0.945)

ax = ax_px(358, 255, 584, 417)
decay_panel(ax, [e_0, e_05, e_1, e_2, e_4, e_6],
            ['#9d92d2', '#2e2a78', '#3b3bd6', '#22aa22', '#eeee10', '#f39a3a'],
            ru_labels_e, [e_fit0, e_fit05, e_fit2, e_fit4, e_fit6], (0.01, 1), [0.01, 0.1, 1],
            ['0.01', '0.1', '1'], 'lower left', (0.02, 0.023), 'DHLA-PEG', 0.527, 0.933)

ax = ax_px(359, 474, 584, 636)
decay_panel(ax, [f_0, f_2, f_4, f_6, f_8, f_10, f_15],
            ['#000000', '#f06a6a', '#22dd22', '#f2f060', '#101a8a', '#e020e0', '#30f0f0'],
            fc_labels_f, [], (0.1, 1), [0.1, 1], ['0.1', '1'],
            'upper right', (0.985, 0.965), 'DHLA-PEG', 0.49, 0.932)

# ---- panel letters ----
for letter, (x, y) in {'a': (12, 14), 'b': (12, 234), 'c': (12, 458),
                       'd': (320, 14), 'e': (319, 235), 'f': (316, 452)}.items():
    fig.text(x / W, 1 - y / H, letter, ha='center', va='center', fontsize=10.5, fontweight='bold')

# thin rule at the bottom
fig.add_artist(Line2D([200 / W, 1.0], [1 - 669 / H, 1 - 669 / H], color='#bbbbbb', lw=0.8))

fig.savefig('out.png', dpi=100)
